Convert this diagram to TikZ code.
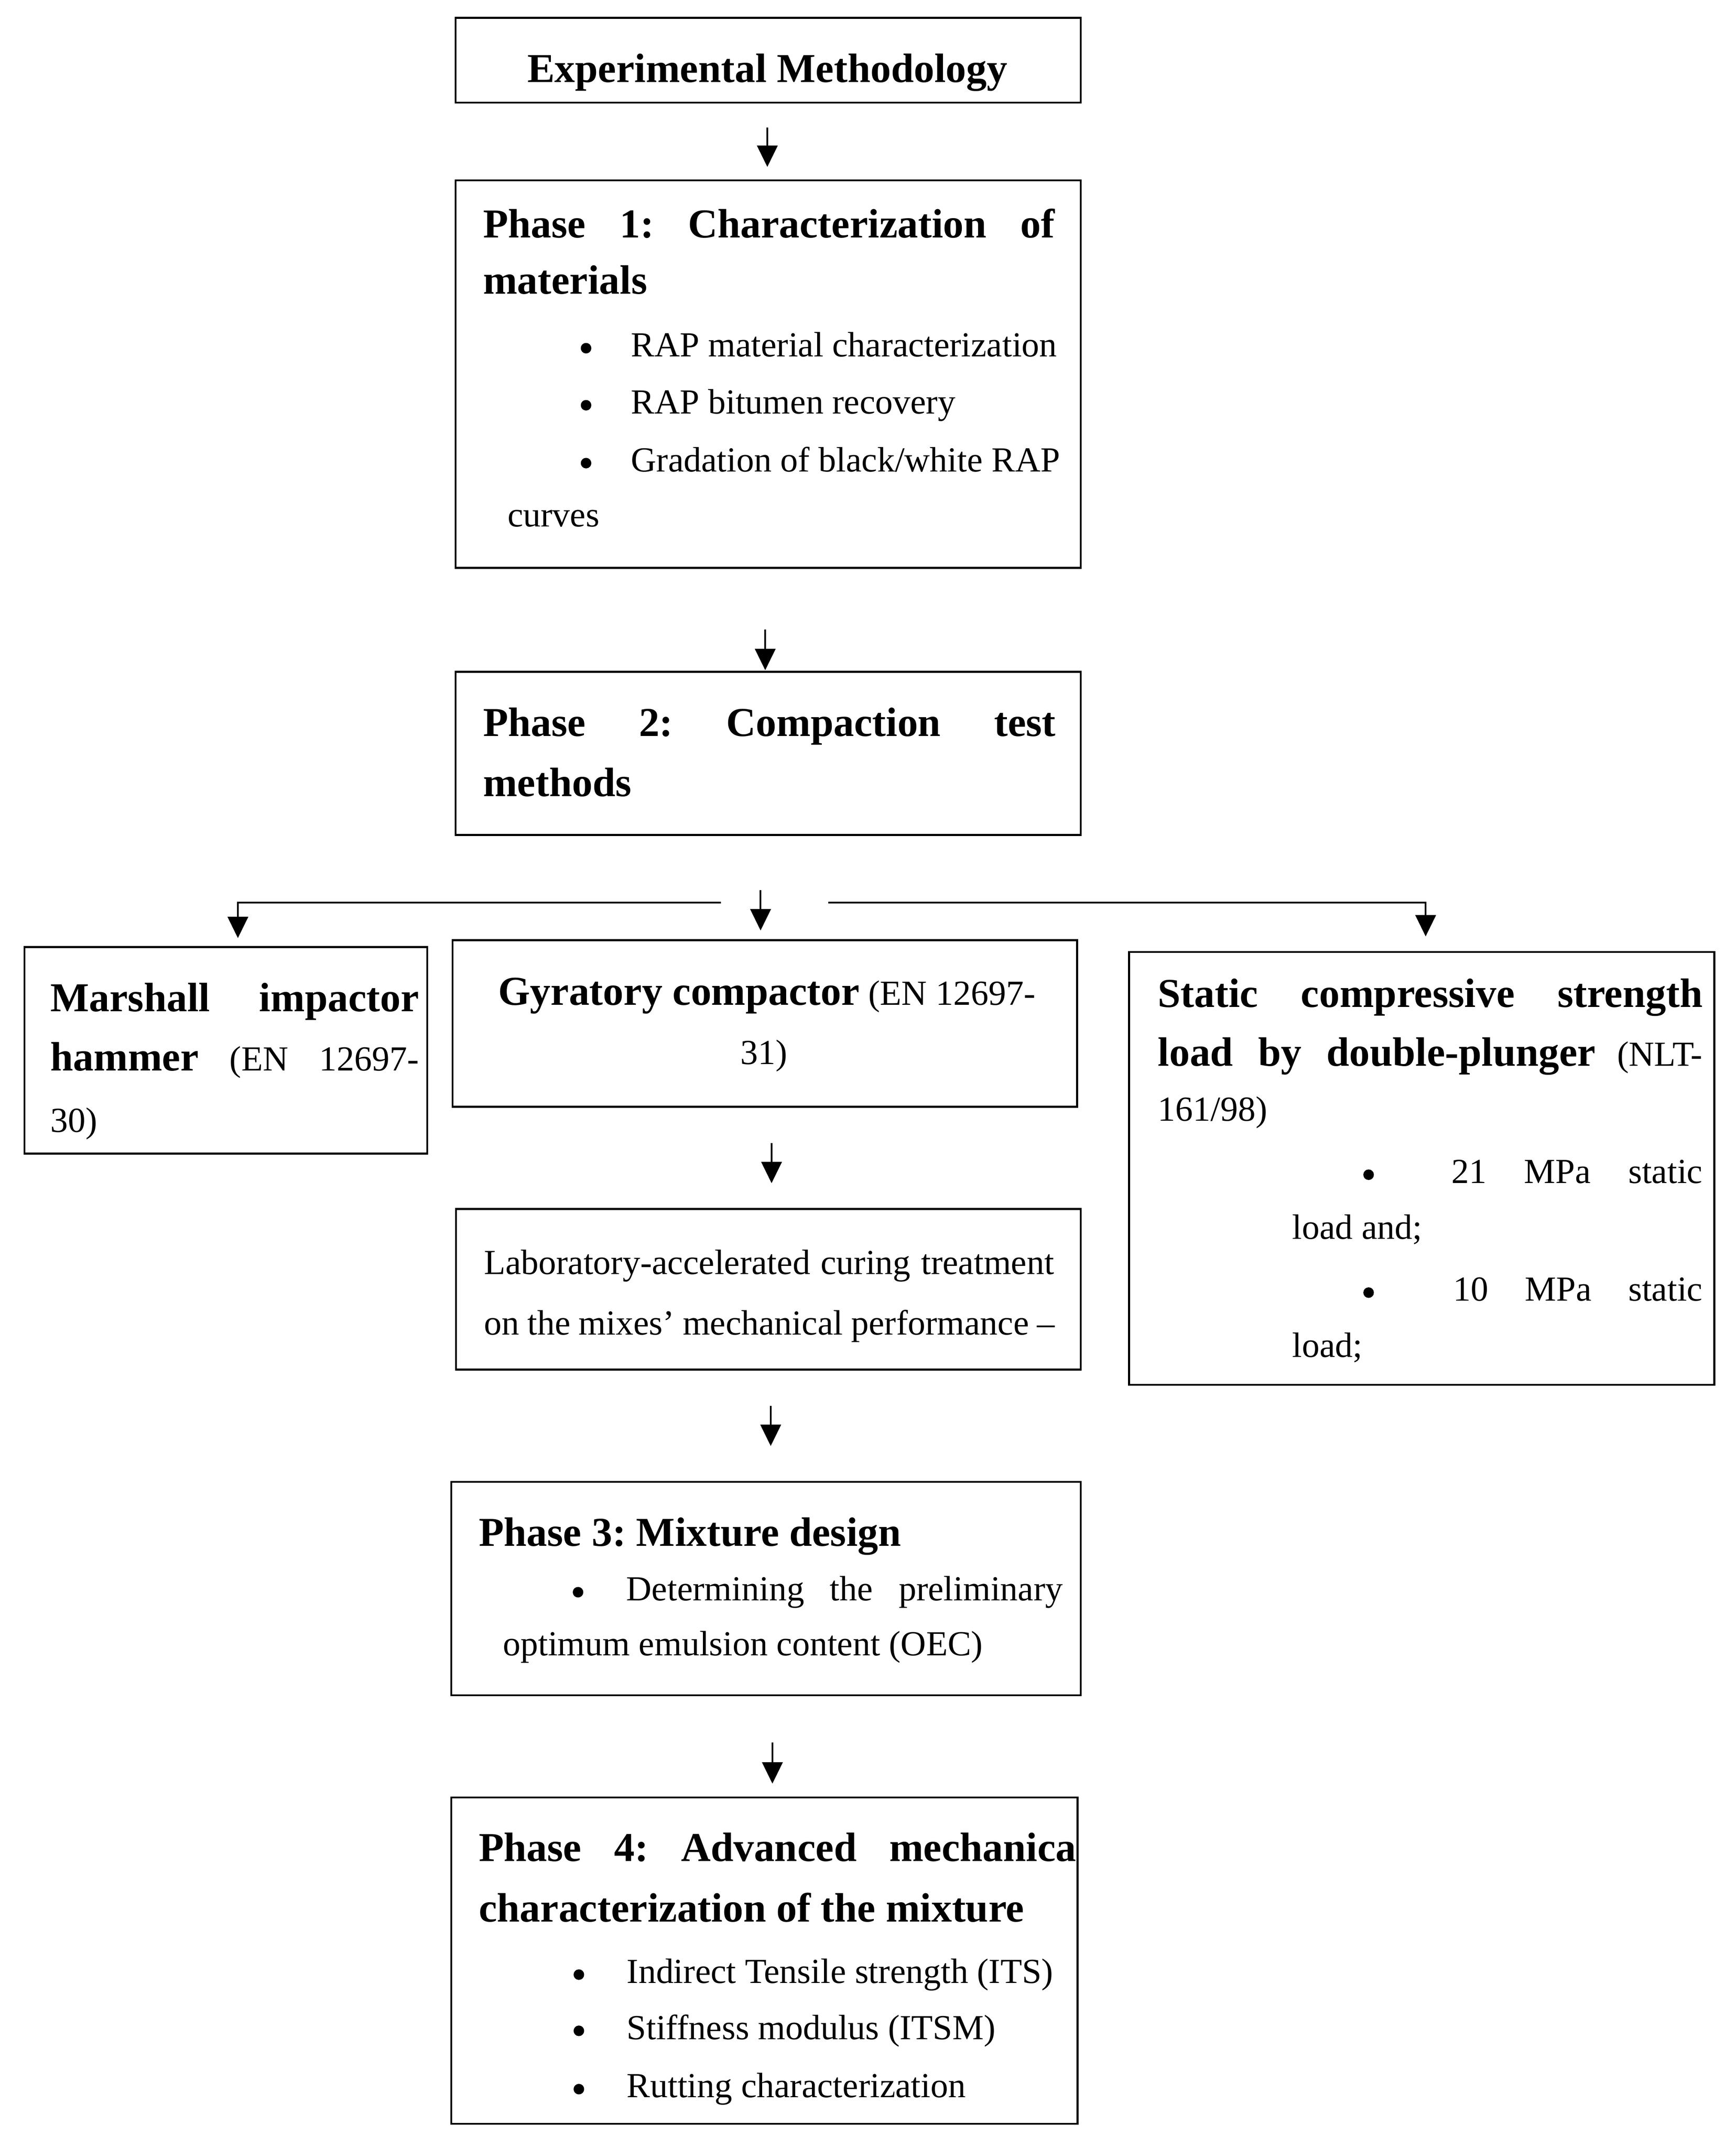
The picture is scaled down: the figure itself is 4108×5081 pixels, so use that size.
\documentclass[tikz,border=0pt]{standalone}
\usepackage{fontspec}
\setmainfont{Liberation Serif}
\usetikzlibrary{arrows.meta,fit}
\newdimen\pxu \pxu=0.1441pt
\newcommand{\bodyf}{\fontsize{12pt}{14pt}\selectfont}
\newcommand{\headf}{\fontsize{14pt}{16pt}\selectfont\bfseries}
\newcommand{\jline}[2]{\makebox[#1\pxu][s]{#2}}
\frenchspacing
\begin{document}
\begin{tikzpicture}[x=0.1441pt,y=-0.1441pt,
  box/.style={draw,line width=0.65pt,inner sep=0pt,line join=miter},
  arr/.style={-{Triangle[length=7.3pt,width=7pt]},line width=0.6pt,line join=miter},
  txt/.style={inner sep=0pt,anchor=base west,font=\bodyf},
  hd/.style={txt,font=\headf},
  bul/.style={circle,fill,draw=none,inner sep=0pt,minimum size=25\pxu},
  ctr/.style={inner sep=0pt,anchor=base,font=\bodyf}]
\useasboundingbox (0,0) rectangle (4108,5081);
\fill[white] (0,0) rectangle (4108,5081);

% boxes
\node[box,fit={(1078,42)(2558,243)}] (top) {};
\node[box,fit={(1078,427)(2558,1344)}] (ph1) {};
\node[box,fit={(1078,1590)(2558,1976)}] (ph2) {};
\node[box,fit={(58,2241)(1011,2730)}] (mar) {};
\node[box,fit={(1071,2225)(2549,2619)}] (gyr) {};
\node[box,fit={(2672,2253)(4057,3277)}] (sta) {};
\node[box,fit={(1079,2861)(2558,3241)}] (cur) {};
\node[box,fit={(1068,3507)(2558,4012)}] (ph3) {};
\node[box,fit={(1068,4254)(2550,5026)}] (ph4) {};

% top
\node[ctr,font=\headf] (ttop) at (1816,195) {Experimental Methodology};

% phase 1
\node[hd] (p1a) at (1142,562) {\jline{1353}{Phase 1: Characterization of}};
\node[hd] (p1b) at (1142,696) {materials};
\node[bul] (p1u1) at (1387,824) {};
\node[txt] (p1c) at (1492,844) {RAP material characterization};
\node[bul] (p1u2) at (1387,959) {};
\node[txt] (p1d) at (1492,979) {RAP bitumen recovery};
\node[bul] (p1u3) at (1387,1096) {};
\node[txt] (p1e) at (1492,1116) {Gradation of black/white RAP};
\node[txt] (p1f) at (1200,1246) {curves};

% phase 2
\node[hd] (p2a) at (1142,1742) {\jline{1355}{Phase 2: Compaction test}};
\node[hd] (p2b) at (1142,1884) {methods};

% Marshall
\node[hd] (ma) at (118,2394) {\jline{872}{Marshall impactor}};
\node[txt] (mb) at (118,2534) {\jline{872}{{\headf hammer} (EN 12697-}};
\node[txt] (mc) at (118,2679) {30)};

% Gyratory
\node[ctr] (ga) at (1815,2378) {{\headf Gyratory compactor} (EN 12697-};
\node[ctr] (gb) at (1808,2519) {31)};

% Static
\node[hd] (sa) at (2739,2383) {\jline{1289}{Static compressive strength}};
\node[txt] (sb) at (2739,2523) {\jline{1289}{{\headf load by double-plunger} (NLT-}};
\node[txt] (sc) at (2739,2653) {161/98)};
\node[bul] (su1) at (3239,2780) {};
\node[txt] (sd) at (3434,2800) {\jline{594}{21 MPa static}};
\node[txt] (se) at (3057,2932) {load and;};
\node[bul] (su2) at (3239,3059) {};
\node[txt] (sf) at (3438,3079) {\jline{590}{10 MPa static}};
\node[txt] (sg) at (3057,3212) {load;};

% curing
\node[txt] (ca) at (1144,3016) {\jline{1349}{Laboratory-accelerated curing treatment}};
\node[txt] (cb) at (1144,3159) {\jline{1351}{on the mixes’ mechanical performance –}};

% phase 3
\node[hd] (p3a) at (1132,3659) {Phase 3: Mixture design};
\node[bul] (p3u) at (1368,3768) {};
\node[txt] (p3b) at (1481,3788) {\jline{1033}{Determining the preliminary}};
\node[txt] (p3c) at (1189,3918) {optimum emulsion content (OEC)};

% phase 4
\begin{scope}
\clip (1068,4254) rectangle (2548,5026);
\node[hd] (p4a) at (1132,4405) {\jline{1441}{Phase 4: Advanced mechanical}};
\end{scope}
\node[hd] (p4b) at (1132,4548) {characterization of the mixture};
\node[bul] (p4u1) at (1370,4673) {};
\node[txt] (p4c) at (1482,4693) {Indirect Tensile strength (ITS)};
\node[bul] (p4u2) at (1370,4806) {};
\node[txt] (p4d) at (1482,4826) {Stiffness modulus (ITSM)};
\node[bul] (p4u3) at (1370,4944) {};
\node[txt] (p4e) at (1482,4964) {Rutting characterization};

% connectors
\coordinate (a1s) at (1816,302); \coordinate (a1e) at (1816,395);
\coordinate (a2s) at (1811,1490); \coordinate (a2e) at (1811,1586);
\coordinate (acs) at (1800,2107); \coordinate (ace) at (1800,2202);
\coordinate (bls) at (1706,2136); \coordinate (blc) at (563,2136); \coordinate (ble) at (563,2220);
\coordinate (brs) at (1960,2136); \coordinate (brc) at (3374,2136); \coordinate (bre) at (3374,2216);
\coordinate (a3s) at (1826,2705); \coordinate (a3e) at (1826,2800);
\coordinate (a4s) at (1824,3327); \coordinate (a4e) at (1824,3422);
\coordinate (a5s) at (1828,4124); \coordinate (a5e) at (1828,4221);
\draw[arr] (a1s) -- (a1e);
\draw[arr] (a2s) -- (a2e);
\draw[arr] (acs) -- (ace);
\draw[arr] (bls) -- (blc) -- (ble);
\draw[arr] (brs) -- (brc) -- (bre);
\draw[arr] (a3s) -- (a3e);
\draw[arr] (a4s) -- (a4e);
\draw[arr] (a5s) -- (a5e);
\end{tikzpicture}
\end{document}
